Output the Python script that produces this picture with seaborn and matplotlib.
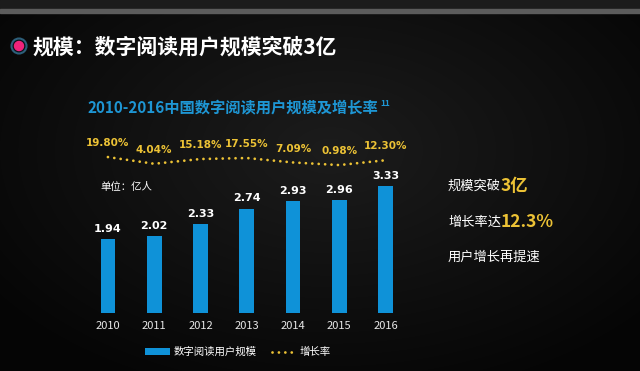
import numpy as np
import matplotlib
matplotlib.use('Agg')
import matplotlib.pyplot as plt
import seaborn as sns
from matplotlib.patches import Patch, Rectangle, Circle
from matplotlib.lines import Line2D

years = ['2010', '2011', '2012', '2013', '2014', '2015', '2016']
users = [1.94, 2.02, 2.33, 2.74, 2.93, 2.96, 3.33]  # 亿人
growth = [19.80, 4.04, 15.18, 17.55, 7.09, 0.98, 12.30]  # %

BLUE = '#0f92d8'
GOLD = '#ecc235'

sns.set_theme(style='dark')
plt.rcParams['font.family'] = ['Noto Sans CJK SC', 'DejaVu Sans']
plt.rcParams['axes.unicode_minus'] = False

fig = plt.figure(figsize=(6.4, 3.71), dpi=100)

# dark gradient background
bg = fig.add_axes([0, 0, 1, 1], zorder=-10)
yy, xx = np.mgrid[0:371, 0:640]
r = np.sqrt(((xx - 330) / 420.0) ** 2 + ((yy - 150) / 260.0) ** 2)
shade = 0.11 - 0.09 * np.clip(r, 0, 1)
bg.imshow(np.dstack([shade] * 3), aspect='auto', extent=[0, 640, 371, 0])
bg.add_patch(Rectangle((0, 0), 640, 9, color='#1c1c1c'))
bg.add_patch(Rectangle((0, 9), 640, 4, color='#5c5c5c'))
bg.add_patch(Circle((19, 46), 7.5, facecolor='#0b1018', edgecolor='#2d5f7a', lw=1.5))
bg.add_patch(Circle((19, 46), 4.5, color='#f0237a'))
bg.set_xlim(0, 640)
bg.set_ylim(371, 0)
bg.axis('off')

# bars
ax = fig.add_axes([0.1325, 0.1563, 0.506, 0.4621])
ax.set_facecolor('none')
sns.barplot(x=years, y=users, color=BLUE, width=0.32, saturation=1,
            linewidth=0, edgecolor='none', ax=ax)
ax.set_ylim(0, 4.5)
ax.set_xlim(-0.5, 6.5)
ax.set_yticks([])
ax.set_ylabel('')
ax.tick_params(axis='x', colors='#e8e8e8', labelsize=8, length=0, pad=6)
ax.bar_label(ax.containers[0], fmt='%.2f', padding=4, color='white',
             fontsize=8, fontweight='bold', family='DejaVu Sans')
for s in ax.spines.values():
    s.set_visible(False)
ax.grid(False)

# growth rate (dotted line on twin axis)
ax2 = ax.twinx()
sns.lineplot(x=np.arange(len(years)), y=growth, ax=ax2, color=GOLD, lw=2.0,
             linestyle=(0, (0.01, 2.3)), dash_capstyle='round')
ax2.set_ylim(-346.8, 56.2)
ax2.set_yticks([])
ax2.grid(False)
for s in ax2.spines.values():
    s.set_visible(False)
for i, g in enumerate(growth):
    ax2.annotate(f'{g:.2f}%', (i, g), xytext=(0, 10), textcoords='offset points',
                 ha='center', va='center', color=GOLD, fontsize=7.5,
                 fontweight='bold', family='DejaVu Sans')

# texts
fig.text(32 / 640, 1 - 47 / 371, '规模：数字阅读用户规模突破3亿', color='white',
         fontsize=15, fontweight='bold', va='center', ha='left')
st = fig.text(88 / 640, 1 - 107 / 371, '2010-2016中国数字阅读用户规模及增长率',
              color='#1e96d4', fontsize=11, fontweight='bold', va='center', ha='left')
ax.annotate('11', xy=(1, 0.75), xycoords=st, xytext=(1, 0), textcoords='offset points',
            color='#1e96d4', fontsize=6, fontweight='bold', va='center', ha='left')
fig.text(100 / 640, 1 - 187 / 371, '单位：亿人', color='white', fontsize=7.5, va='center')

t1 = fig.text(448 / 640, 1 - 186 / 371, '规模突破', color='white', fontsize=9.5, va='center')
ax.annotate('3亿', xy=(1, 0.5), xycoords=t1, color=GOLD, fontsize=12.5,
            fontweight='bold', va='center', ha='left')
t2 = fig.text(448 / 640, 1 - 222 / 371, '增长率达', color='white', fontsize=9.5, va='center')
ax.annotate('12.3%', xy=(1, 0.5), xycoords=t2, color=GOLD, fontsize=12.5,
            fontweight='bold', va='center', ha='left')
fig.text(448 / 640, 1 - 257 / 371, '用户增长再提速', color='white', fontsize=9.5, va='center')

# legend
handles = [Patch(facecolor=BLUE, edgecolor='none'),
           Line2D([], [], color=GOLD, lw=2.0, linestyle=(0, (0.01, 2.3)),
                  dash_capstyle='round')]
fig.legend(handles, ['数字阅读用户规模', '增长率'], ncol=2, frameon=False,
           loc='center', bbox_to_anchor=(238 / 640, 1 - 352 / 371),
           labelcolor='white', fontsize=7.5, handlelength=2.4, handleheight=0.6,
           handletextpad=0.3, columnspacing=1.5)

fig.savefig('out.png', dpi=100, facecolor='black')
